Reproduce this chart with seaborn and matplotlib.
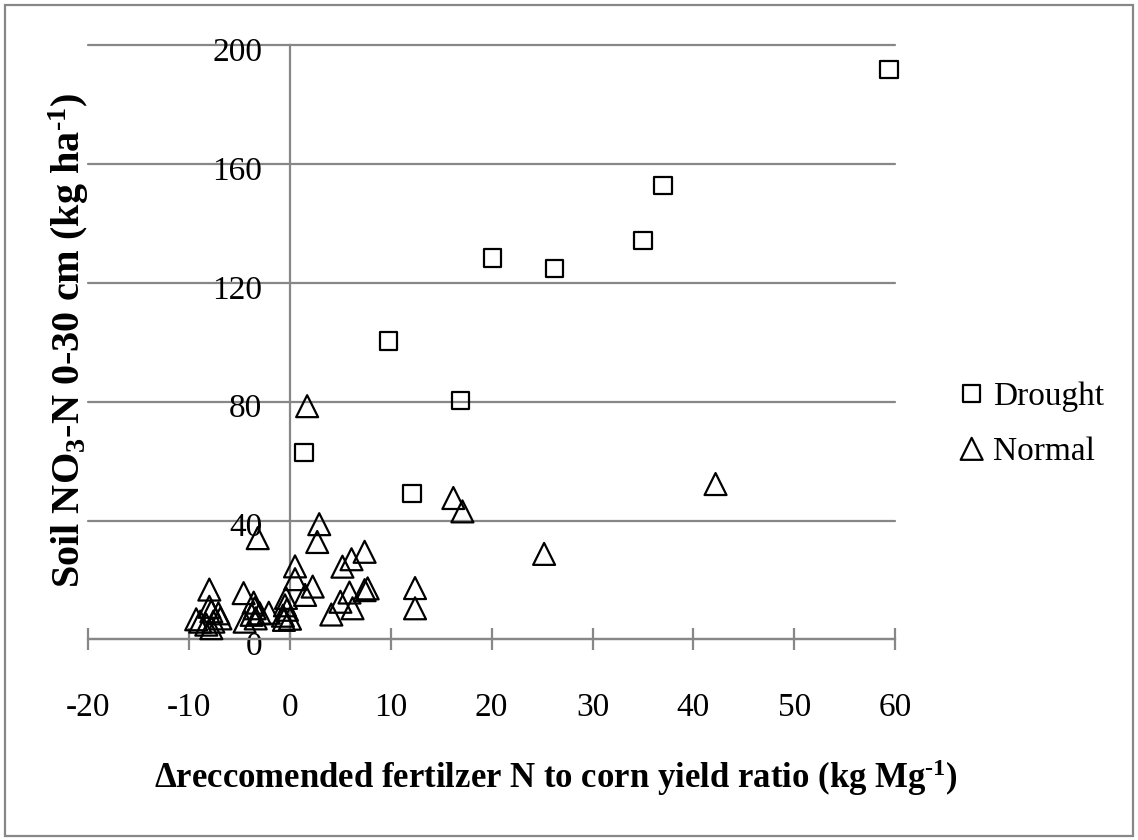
import matplotlib
matplotlib.use("Agg")
import numpy as np
import pandas as pd
import matplotlib.pyplot as plt
import seaborn as sns
from matplotlib.patches import Rectangle
from matplotlib.transforms import ScaledTranslation

# values
drought_x = [59.4, 37.0, 35.0, 26.2, 20.1, 9.75, 16.9, 1.4, 12.1]
drought_y = [191.8, 152.7, 134.2, 124.7, 128.3, 100.4, 80.4, 63.0, 49.1]

normal_x = [1.7, -3.2, 2.9, 2.7, 0.5, 0.5, 2.25, 1.5, 5.2, 6.1,
            7.4, 5.9, 7.7, 7.4, 5.0, 6.2, 4.1, 12.4, 12.4, 16.2,
            17.1, 25.2, 42.2, -8.0, -8.0, -9.3, -7.1, -7.8, -8.3, -7.8,
            -8.9, -7.6, -6.9, -4.6, -3.6, -2.1, -3.0, -3.8, -4.5, -3.4,
            -0.4, -0.3, -0.6, -0.5, -0.7, 0.0, -3.5]
normal_y = [78.5, 34.1, 38.8, 32.8, 24.6, 20.3, 17.8, 15.0, 24.5, 27.0,
            29.5, 15.8, 17.2, 16.6, 12.7, 10.5, 8.4, 17.3, 10.5, 47.6,
            43.1, 28.8, 52.3, 16.8, 11.0, 6.8, 8.8, 9.5, 5.0, 3.8,
            6.0, 6.0, 7.1, 15.6, 12.4, 9.0, 8.8, 8.3, 6.0, 7.1,
            14.0, 10.0, 6.6, 11.5, 8.0, 7.0, 10.5]

x_ticks = [-20, -10, 0, 10, 20, 30, 40, 50, 60]
y_ticks = [0, 40, 80, 120, 160, 200]

x_title = r"$\Delta$reccomended fertilzer N to corn yield ratio (kg Mg$^{\text{-1}}$)"
y_title = r"Soil NO$_{3}$-N 0-30 cm (kg ha$^{\text{-1}}$)"

df = pd.DataFrame({
    "x": drought_x + normal_x,
    "y": drought_y + normal_y,
    "group": ["Drought"] * len(drought_x) + ["Normal"] * len(normal_x),
})

sns.set_style("white")
plt.rcParams["font.family"] = ["Liberation Serif", "DejaVu Serif"]
plt.rcParams["mathtext.fontset"] = "custom"
plt.rcParams["mathtext.rm"] = "Liberation Serif:bold"
plt.rcParams["mathtext.it"] = "Liberation Serif:bold"
plt.rcParams["mathtext.default"] = "rm"
plt.rcParams["text.color"] = "black"
plt.rcParams["axes.labelcolor"] = "black"
plt.rcParams["xtick.color"] = "black"
plt.rcParams["ytick.color"] = "black"

grey = "#878787"
fs = 24

fig = plt.figure(figsize=(11.38, 8.4), dpi=100)
ax = fig.add_axes([0.0776, 0.2387, 0.7089, 0.7077])

for grp, marker, size in [("Drought", "s", 155), ("Normal", "^", 250)]:
    sub = df[df["group"] == grp]
    sns.scatterplot(data=sub, x="x", y="y", marker=marker, s=size,
                    facecolor="none", edgecolor="black", linewidth=1.6,
                    label=grp, ax=ax, clip_on=False, zorder=3)
for coll in ax.collections:
    coll.set_facecolor("none")
    coll.set_edgecolor("black")

ax.set_xlim(-20, 60)
ax.set_ylim(0, 200)
ax.set_xticks(x_ticks)
ax.set_yticks(y_ticks)
ax.set_xticklabels([str(t) for t in x_ticks])
ax.set_yticklabels([str(t) for t in y_ticks])

# axes drawn Excel style: vertical axis at x=0, gridlines across
for side in ["top", "right"]:
    ax.spines[side].set_visible(False)
ax.spines["left"].set_position(("data", 0))
for side in ["left", "bottom"]:
    ax.spines[side].set_color(grey)
    ax.spines[side].set_linewidth(1.6)

ax.yaxis.grid(True, color=grey, linewidth=1.6)
ax.xaxis.grid(False)
for line in ax.get_ygridlines():
    line.set_clip_on(False)

ax.tick_params(axis="x", bottom=True, direction="inout", length=16, width=1.6,
               color=grey, labelcolor="black", pad=30, labelsize=fs)
ax.tick_params(axis="y", length=0, pad=20, labelsize=fs, labelcolor="black")
for lab in ax.get_yticklabels():
    lab.set_transform(lab.get_transform() + ScaledTranslation(0, -0.04, fig.dpi_scale_trans))

ax.set_xlabel(x_title, fontsize=25, fontweight="bold", color="black")
ax.set_ylabel(y_title, fontsize=29, fontweight="bold", color="black")
ax.xaxis.set_label_coords(0.58, -0.233)
ax.xaxis.label.set_va("center")
ax.yaxis.set_label_coords(-0.024, 0.504)
ax.yaxis.label.set_va("center")

ax.legend(loc="center left", bbox_to_anchor=(955 / 1138, 1 - 424.5 / 840),
          bbox_transform=fig.transFigure, frameon=False, fontsize=fs,
          handlelength=1.0, handletextpad=0.15, labelspacing=0.75,
          borderpad=0, borderaxespad=0, scatteryoffsets=[0.5])

# chart border
fig.patches.append(Rectangle((5 / 1138, 4 / 840), 1128 / 1138, 831 / 840,
                             transform=fig.transFigure, fill=False,
                             edgecolor=grey, linewidth=1.6))

fig.savefig("out.png", dpi=100)
